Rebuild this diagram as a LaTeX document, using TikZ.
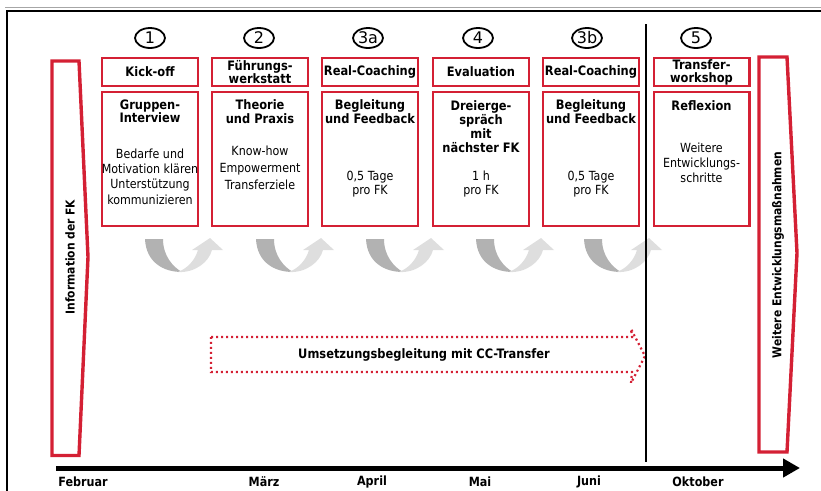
\documentclass[tikz,border=0pt]{standalone}
\usepackage{fontspec}
\setmainfont{DejaVu Sans}[FakeStretch=0.88]
\newfontfamily\numfont{DejaVu Sans}
\usetikzlibrary{shapes.geometric,arrows.meta}
\definecolor{fkred}{RGB}{212,32,52}
\definecolor{gdark}{RGB}{178,178,178}
\definecolor{glight}{RGB}{222,222,222}
\tikzset{
 hbox/.style={draw=fkred, line width=2.4pt, minimum width=95.6pt, minimum height=27.6pt, inner sep=0pt, align=center, font=\fontsize{13}{13}\selectfont\bfseries},
 bbox/.style={draw=fkred, line width=2.4pt, minimum width=95.6pt, minimum height=133.6pt, inner sep=0pt},
 ttl/.style={align=center, inner sep=0pt, font=\fontsize{13}{13.5}\selectfont\bfseries},
 txt/.style={align=center, inner sep=0pt, font=\fontsize{12.6}{#1}\selectfont},
 txt/.default=15,
 num/.style={ellipse, draw=black, line width=1.8pt, minimum width=30pt, minimum height=20pt, inner sep=0pt, font=\numfont\fontsize{16}{16}\selectfont},
 month/.style={font=\fontsize{12.7}{13}\selectfont\bfseries, inner sep=0pt},
 side/.style={rotate=90, font=\fontsize{12.2}{13}\selectfont\bfseries, inner sep=0pt},
 pent/.style={draw=fkred, line width=3.4pt, line join=miter},
 dotarrow/.style={draw=fkred, line width=2.2pt, dash pattern=on 2pt off 3pt},
 uturn/.pic={
  \fill[gdark] (0,0) .. controls (1,23) and (18,33) .. (37,33) .. controls (28,28) and (18,17) .. (18,0) -- cycle;
  \fill[glight] (33,33) .. controls (50,34) and (64,23) .. (67,11) -- (78,11) -- (65,-1) -- (47,11) -- (53,11) .. controls (50,21) and (43,29) .. (33,33) -- cycle;
 }
}
\begin{document}
\begin{tikzpicture}[x=1pt,y=-1pt]
\useasboundingbox (0,0) rectangle (821,490);
% frame
\draw[black!35, line width=1pt] (5,7.5) -- (821,7.5);
\draw[line width=2.5pt] (7,500) -- (7,11) -- (830,11);

% numbers
\node[num] (n1) at (150,38) {1};
\node[num] (n2) at (259,38) {2};
\node[num] (n3a) at (368,38) {3a};
\node[num] (n4) at (478,38) {4};
\node[num] (n3b) at (587,38) {3b};
\node[num] (n5) at (696,38) {5};

% header boxes
\node[hbox] (h1) at (150,72) {Kick-off};
\node[hbox] (h2) at (260,72) {Führungs-\\werkstatt};
\node[hbox] (h3a) at (370,72) {Real-Coaching};
\node[hbox] (h4) at (481,72) {Evaluation};
\node[hbox] (h3b) at (591,72) {Real-Coaching};
\node[hbox] (h5) at (701.5,72) {Transfer-\\workshop};

% body boxes
\node[bbox] (b1) at (150,159) {};
\node[bbox] (b2) at (260,159) {};
\node[bbox] (b3a) at (370,159) {};
\node[bbox] (b4) at (481,159) {};
\node[bbox] (b3b) at (591,159) {};
\node[bbox] (b5) at (701.5,159) {};

% body texts
\node[ttl] (t1) at (150,111.5) {Gruppen-\\Interview};
\node[txt=15.3] (d1) at (150,176.5) {Bedarfe und\\Motivation klären\\Unterstützung\\kommunizieren};
\node[ttl] (t2) at (260,111.5) {Theorie\\und Praxis};
\node[txt=17] (d2) at (260,167.5) {Know-how\\Empowerment\\Transferziele};
\node[ttl] (t3a) at (370,111.5) {Begleitung\\und Feedback};
\node[txt=14] (d3a) at (370,184.5) {0,5 Tage\\pro FK};
\node[ttl, font=\fontsize{13}{14}\selectfont\bfseries] (t4) at (481,126.5) {Dreierge-\\spräch\\mit\\nächster FK};
\node[txt=14] (d4) at (481,184.5) {1 h\\pro FK};
\node[ttl] (t3b) at (591,111.5) {Begleitung\\und Feedback};
\node[txt=14] (d3b) at (591,184.5) {0,5 Tage\\pro FK};
\node[ttl] (t5) at (701.5,105.5) {Reflexion};
\node[txt=15] (d5) at (701.5,162.5) {Weitere\\Entwicklungs-\\schritte};

% u-turn arrows
\foreach \xo in {145,256,366,476,584} {
  \pic at (\xo,239) {uturn};
}

% side pentagons
\draw[pent] (52,61) -- (79,61) -- (88,257) -- (79,455.5) -- (52,455.5) -- cycle;
\node[side] (info) at (70,257) {Information der FK};
\draw[pent] (759,57) -- (787,57) -- (797,253) -- (787,452) -- (759,452) -- cycle;
\node[side] (weiter) at (778,255) {Weitere Entwicklungsmaßnahmen};

% dotted arrow
\draw[dotarrow] (211,337) -- (632,337) -- (631,329) -- (645,356) -- (631,383) -- (632,372) -- (211,372) -- cycle;
\node[month, font=\fontsize{13}{13}\selectfont\bfseries] (umsetz) at (424,355) {Umsetzungsbegleitung mit CC-Transfer};

% vertical separator
\coordinate (vtop) at (646,24);
\coordinate (vbot) at (646,462);
\draw[line width=2pt] (vtop) -- (vbot);

% timeline
\coordinate (tl0) at (56,468);
\coordinate (tl1) at (800,468);
\draw[line width=5pt, -{Triangle[length=17pt,width=18pt]}] (tl0) -- (tl1);

% months
\node[month] (m1) at (83,482) {Februar};
\node[month] (m2) at (264,482) {März};
\node[month] (m3) at (372,482) {April};
\node[month] (m4) at (480,482) {Mai};
\node[month] (m5) at (589,482) {Juni};
\node[month] (m6) at (698,482) {Oktober};
\end{tikzpicture}
\end{document}
